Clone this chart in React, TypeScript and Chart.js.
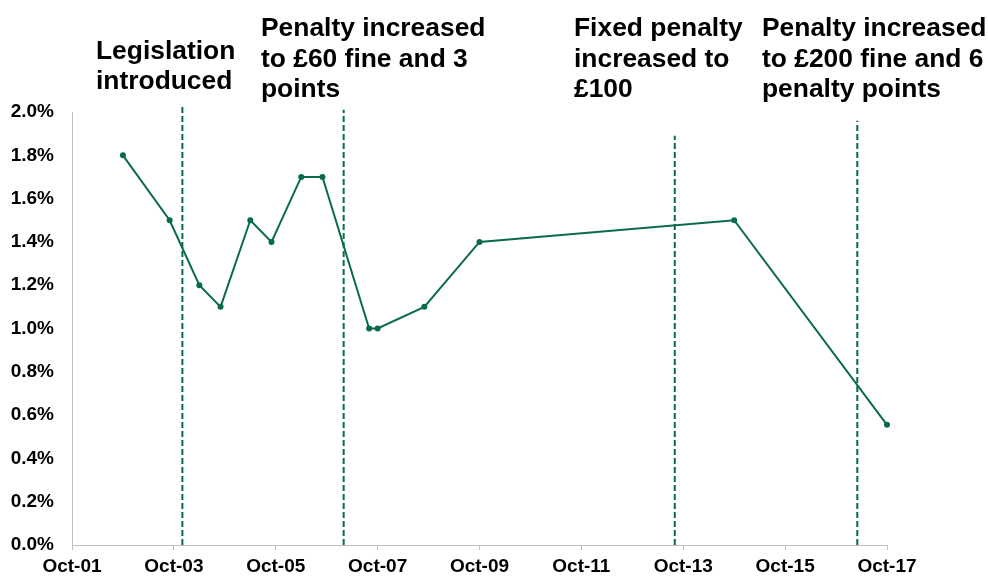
import React, { useEffect, useRef } from "react";
import { Chart, registerables } from "chart.js";

Chart.register(...registerables);

// months since Oct-2001
const pointMonths = [12, 23, 30, 35, 42, 47, 54, 59, 70, 72, 83, 96, 156, 192];
const pointValues = [1.8, 1.5, 1.2, 1.1, 1.5, 1.4, 1.7, 1.7, 1.0, 1.0, 1.1, 1.4, 1.5, 0.555];

const tickMonths = [0, 24, 48, 72, 96, 120, 144, 168, 192];
const tickLabels = ["Oct-01", "Oct-03", "Oct-05", "Oct-07", "Oct-09", "Oct-11", "Oct-13", "Oct-15", "Oct-17"];

const eventMonths = [26, 64, 142, 185];
const eventLineTops = [2.03, 2.01, 1.89, 1.96];
const eventLabels = [
  ["Legislation", "introduced"],
  ["Penalty increased", "to £60 fine and 3", "points"],
  ["Fixed penalty", "increased to", "£100"],
  ["Penalty increased", "to £200 fine and 6", "penalty points"],
];

const yTicks = [0, 0.2, 0.4, 0.6, 0.8, 1.0, 1.2, 1.4, 1.6, 1.8, 2.0];

const GREEN = "#0a6a50";
const FONT = "'Liberation Sans', Arial, sans-serif";

// text placement of annotation blocks (pixels)
const labelLayout = [
  { x: 96, y: 58.5 },
  { x: 261, y: 36 },
  { x: 574, y: 36 },
  { x: 762, y: 36 },
];

const annotationPlugin = {
  id: "annotText",
  afterDraw(chart: any) {
    const ctx = chart.ctx;
    ctx.save();
    ctx.fillStyle = "#000";
    ctx.font = `bold 26.4px ${FONT}`;
    ctx.textAlign = "left";
    ctx.textBaseline = "alphabetic";
    eventLabels.forEach((lines, i) => {
      const p = labelLayout[i];
      lines.forEach((t, j) => ctx.fillText(t, p.x, p.y + j * 30.7));
    });
    ctx.restore();
  },
};

export default function App() {
  const ref = useRef<HTMLCanvasElement>(null);
  useEffect(() => {
    document.body.style.margin = "0";
    const datasets: any[] = [
      {
        data: pointMonths.map((m, i) => ({ x: m, y: pointValues[i] })),
        borderColor: GREEN,
        backgroundColor: GREEN,
        borderWidth: 2,
        pointRadius: 3,
        pointBorderWidth: 0,
        pointBackgroundColor: GREEN,
        tension: 0,
        clip: false,
        order: 0,
      },
      ...eventMonths.map((m, i) => ({
        data: [
          { x: m, y: 0 },
          { x: m, y: eventLineTops[i] },
        ],
        borderColor: GREEN,
        borderWidth: 2,
        borderDash: [6, 3],
        pointRadius: 0,
        clip: false,
        order: 1,
      })),
    ];
    const chart = new Chart(ref.current!, {
      type: "line",
      data: { datasets },
      plugins: [annotationPlugin],
      options: {
        animation: false,
        responsive: false,
        devicePixelRatio: 1,
        layout: { padding: { top: 112, right: 101, left: 0, bottom: 0 } },
        plugins: { legend: { display: false }, tooltip: { enabled: false } },
        scales: {
          x: {
            type: "linear",
            min: 0,
            max: 192,
            afterFit: (s: any) => {
              s.height = 32;
            },
            afterBuildTicks: (s: any) => {
              s.ticks = tickMonths.map((v) => ({ value: v }));
            },
            ticks: {
              autoSkip: false,
              maxRotation: 0,
              padding: 5,
              color: "#000",
              font: { family: FONT, size: 19, weight: "bold" },
              callback: (v: any) => tickLabels[tickMonths.indexOf(Number(v))] ?? "",
            },
            grid: { drawOnChartArea: false, drawTicks: true, tickLength: 5, color: "#bfbfbf", lineWidth: 1 },
            border: { color: "#bfbfbf", width: 1 },
          },
          y: {
            min: 0,
            max: 2.0,
            afterFit: (s: any) => {
              s.width = 72;
            },
            afterBuildTicks: (s: any) => {
              s.ticks = yTicks.map((v) => ({ value: v }));
            },
            ticks: {
              padding: 18,
              color: "#000",
              font: { family: FONT, size: 19, weight: "bold" },
              callback: (v: any) => Number(v).toFixed(1) + "%",
            },
            grid: { drawOnChartArea: false, drawTicks: false },
            border: { color: "#bfbfbf", width: 1 },
          },
        },
      },
    } as any);
    return () => chart.destroy();
  }, []);
  return (
    <div style={{ position: "fixed", left: 0, top: 0, width: 988, height: 577, background: "#fff" }}>
      <canvas ref={ref} width={988} height={577} style={{ display: "block", width: 988, height: 577 }} />
    </div>
  );
}
